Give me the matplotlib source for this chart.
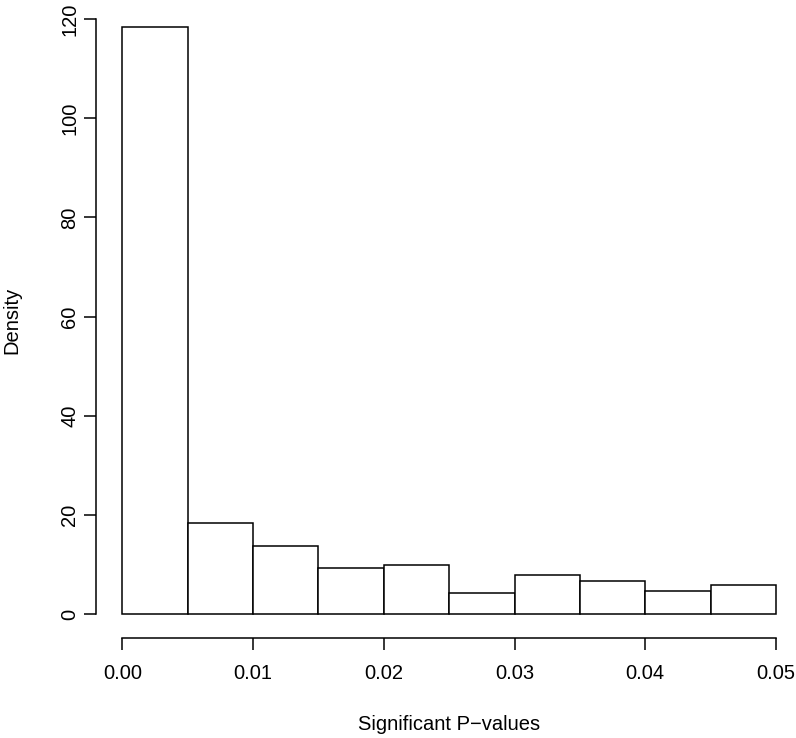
import matplotlib
matplotlib.use("Agg")
import matplotlib.pyplot as plt

# histogram breaks and densities
breaks = [0.000, 0.005, 0.010, 0.015, 0.020, 0.025,
          0.030, 0.035, 0.040, 0.045, 0.050]
density = [118.4, 18.5, 13.7, 9.35, 10.0, 4.36, 8.0, 6.73, 4.7, 5.98]

xticks = [0.00, 0.01, 0.02, 0.03, 0.04, 0.05]
xticklabels = ["0.00", "0.01", "0.02", "0.03", "0.04", "0.05"]
yticks = [0, 20, 40, 60, 80, 100, 120]

plt.rcParams['font.family'] = ['Liberation Sans', 'DejaVu Sans']

fig = plt.figure(figsize=(7.96, 7.38), dpi=100)
ax = fig.add_axes([0.1208, 0.1358, 0.8869, 0.8595])

widths = [b - a for a, b in zip(breaks[:-1], breaks[1:])]
ax.bar(breaks[:-1], density, width=widths, align='edge',
       facecolor='white', edgecolor='black', linewidth=1.1)

# R style 4% padding on both axes
xr = breaks[-1] - breaks[0]
ax.set_xlim(breaks[0] - 0.04 * xr, breaks[-1] + 0.04 * xr)
ymax = max(density)
ax.set_ylim(-0.04 * ymax, 1.04 * ymax)

for s in ['top', 'right']:
    ax.spines[s].set_visible(False)
ax.spines['left'].set_bounds(yticks[0], yticks[-1])
ax.spines['bottom'].set_bounds(xticks[0], xticks[-1])
ax.spines['left'].set_linewidth(1.1)
ax.spines['bottom'].set_linewidth(1.1)

ax.set_xticks(xticks)
ax.set_xticklabels(xticklabels)
ax.set_yticks(yticks)
ax.set_yticklabels([str(v) for v in yticks], rotation=90, va='center')

ax.tick_params(axis='x', length=8.6, width=1.1, pad=10.5, labelsize=14.5)
ax.tick_params(axis='y', length=8.6, width=1.1, pad=3.6, labelsize=14.5)

ax.set_xlabel("Significant P\u2212values", fontsize=14.5)
ax.set_ylabel("Density", fontsize=14.5)
ax.xaxis.set_label_coords(0.5, -0.121)
ax.yaxis.set_label_coords(-0.1064, 0.5)

fig.savefig("out.png", dpi=100)
